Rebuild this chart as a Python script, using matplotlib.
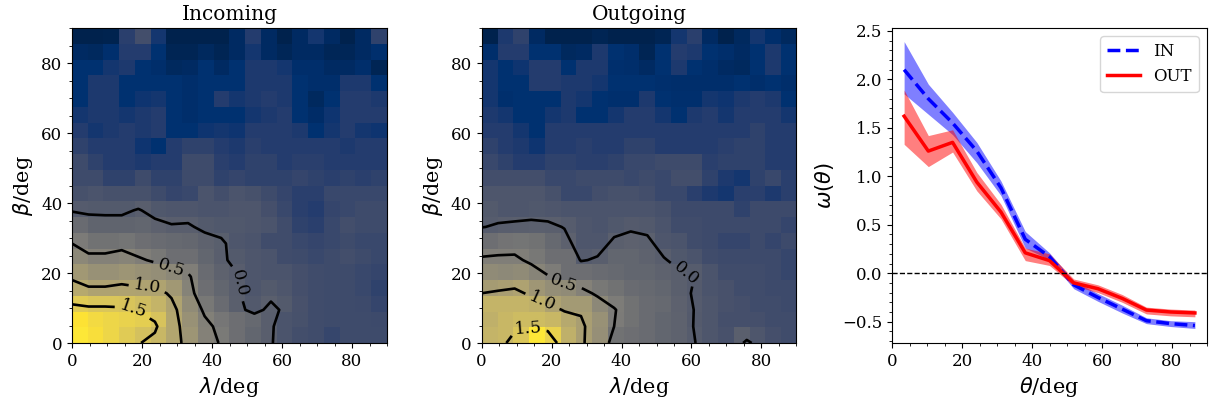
import numpy as np
import matplotlib
matplotlib.use("Agg")
import matplotlib.pyplot as plt
from matplotlib.ticker import AutoMinorLocator, MultipleLocator

plt.rcParams['font.family'] = ['DejaVu Serif']
plt.rcParams['mathtext.fontset'] = 'dejavusans'

# ---------------- data ----------------
# heatmap rows: index 0 = bottom (beta 0..4.5), 19 = top; columns lambda 0..90
incoming = [
    [2.0, 1.9, 1.8, 1.65, 1.52, 1.4, 1.15, 0.9, 0.6, 0.48, 0.3, 0.15, 0.02, -0.15, -0.25, -0.28, -0.38, -0.3, -0.3, -0.3],
    [1.95, 1.85, 1.8, 1.75, 1.7, 1.56, 1.15, 0.85, 0.58, 0.42, 0.3, 0.2, 0.03, -0.15, -0.2, -0.28, -0.3, -0.3, -0.3, -0.32],
    [1.65, 1.6, 1.6, 1.57, 1.48, 1.35, 1.12, 0.75, 0.45, 0.25, 0.05, -0.06, 0.05, -0.05, -0.18, -0.28, -0.3, -0.3, -0.32, -0.4],
    [1.2, 1.1, 1.1, 1.12, 1.1, 1.12, 0.95, 0.62, 0.3, 0.15, 0.02, -0.1, -0.05, -0.12, -0.22, -0.28, -0.3, -0.3, -0.35, -0.45],
    [0.95, 0.85, 0.85, 0.9, 0.85, 0.8, 0.7, 0.55, 0.25, 0.1, 0.01, -0.12, -0.15, -0.15, -0.22, -0.28, -0.3, -0.3, -0.35, -0.4],
    [0.7, 0.6, 0.6, 0.65, 0.55, 0.45, 0.3, 0.3, 0.15, 0.03, -0.05, -0.12, -0.15, -0.28, -0.3, -0.35, -0.3, -0.25, -0.3, -0.35],
    [0.5, 0.35, 0.35, 0.4, 0.3, 0.25, 0.2, 0.18, 0.1, 0.04, -0.1, -0.15, -0.28, -0.28, -0.35, -0.4, -0.35, -0.3, -0.35, -0.35],
    [0.25, 0.12, 0.12, 0.12, 0.15, 0.08, 0.02, 0.03, -0.05, -0.08, -0.08, -0.12, -0.15, -0.28, -0.45, -0.5, -0.35, -0.25, -0.3, -0.3],
    [-0.02, -0.04, -0.05, -0.05, 0.02, -0.08, -0.1, -0.1, -0.15, -0.15, -0.1, -0.12, -0.22, -0.35, -0.5, -0.55, -0.4, -0.35, -0.3, -0.3],
    [-0.2, -0.15, -0.2, -0.2, -0.2, -0.3, -0.4, -0.35, -0.15, -0.25, -0.15, -0.2, -0.3, -0.4, -0.5, -0.5, -0.35, -0.35, -0.35, -0.35],
    [-0.3, -0.3, -0.45, -0.45, -0.3, -0.45, -0.45, -0.3, -0.3, -0.45, -0.4, -0.45, -0.45, -0.45, -0.4, -0.45, -0.5, -0.45, -0.5, -0.45],
    [-0.3, -0.45, -0.55, -0.55, -0.6, -0.55, -0.55, -0.3, -0.3, -0.5, -0.55, -0.45, -0.45, -0.55, -0.5, -0.5, -0.55, -0.55, -0.55, -0.55],
    [-0.45, -0.55, -0.55, -0.55, -0.68, -0.72, -0.55, -0.45, -0.45, -0.55, -0.6, -0.5, -0.55, -0.55, -0.55, -0.55, -0.55, -0.6, -0.55, -0.55],
    [-0.55, -0.65, -0.6, -0.55, -0.6, -0.55, -0.72, -0.72, -0.68, -0.65, -0.68, -0.55, -0.55, -0.55, -0.6, -0.72, -0.65, -0.55, -0.65, -0.68],
    [-0.65, -0.6, -0.6, -0.65, -0.6, -0.55, -0.72, -0.8, -0.72, -0.72, -0.72, -0.65, -0.6, -0.55, -0.72, -0.82, -0.68, -0.55, -0.55, -0.55],
    [-0.72, -0.6, -0.6, -0.72, -0.68, -0.65, -0.72, -0.8, -0.72, -0.55, -0.65, -0.6, -0.55, -0.6, -0.72, -0.88, -0.72, -0.55, -0.55, -0.6],
    [-0.72, -0.6, -0.6, -0.72, -0.72, -0.72, -0.72, -0.8, -0.72, -0.72, -0.72, -0.6, -0.6, -0.6, -0.72, -0.8, -0.8, -0.6, -0.6, -0.72],
    [-0.72, -0.72, -0.65, -0.6, -0.72, -0.8, -0.88, -0.85, -0.72, -0.85, -0.72, -0.6, -0.6, -0.65, -0.8, -0.8, -0.85, -0.85, -0.8, -0.95],
    [-0.85, -0.88, -0.78, -0.55, -0.55, -0.72, -0.95, -0.95, -0.88, -0.95, -0.85, -0.65, -0.85, -0.92, -0.85, -0.85, -0.92, -0.92, -0.85, -0.78],
    [-1.0, -1.0, -0.98, -0.5, -0.25, -0.65, -1.0, -1.0, -1.0, -1.0, -0.85, -0.55, -0.85, -1.0, -0.85, -0.65, -0.85, -1.0, -0.85, -0.45],
]

outgoing = [
    [1.35, 1.4, 1.6, 2.0, 1.75, 1.3, 1.05, 0.82, 0.35, 0.3, 0.25, 0.15, 0.1, -0.01, -0.12, -0.18, 0.05, -0.12, -0.22, -0.28],
    [1.3, 1.4, 1.45, 1.45, 1.4, 1.2, 1.05, 0.85, 0.5, 0.35, 0.25, 0.15, 0.1, -0.03, -0.12, -0.22, -0.22, -0.22, -0.28, -0.28],
    [1.35, 1.35, 1.35, 1.3, 1.1, 0.98, 0.97, 0.7, 0.52, 0.35, 0.25, 0.2, 0.08, -0.02, -0.12, -0.18, -0.22, -0.28, -0.28, -0.32],
    [1.0, 1.05, 1.1, 0.93, 0.8, 0.75, 0.6, 0.45, 0.35, 0.25, 0.2, 0.15, 0.05, -0.03, -0.15, -0.18, -0.28, -0.28, -0.32, -0.32],
    [0.75, 0.72, 0.75, 0.65, 0.52, 0.3, 0.3, 0.25, 0.2, 0.15, 0.15, 0.1, 0.05, -0.01, -0.15, -0.28, -0.28, -0.28, -0.32, -0.38],
    [0.55, 0.55, 0.55, 0.45, 0.3, 0.3, -0.02, 0.03, 0.15, 0.15, 0.1, 0.02, -0.08, -0.15, -0.28, -0.32, -0.32, -0.32, -0.32, -0.38],
    [0.3, 0.38, 0.4, 0.35, 0.2, 0.08, -0.1, -0.1, 0.05, 0.08, 0.06, -0.1, -0.15, -0.28, -0.32, -0.4, -0.4, -0.32, -0.4, -0.32],
    [-0.01, 0.03, 0.05, 0.06, 0.05, -0.01, -0.12, -0.15, -0.08, -0.03, -0.06, -0.15, -0.28, -0.28, -0.32, -0.32, -0.32, -0.32, -0.32, -0.4],
    [-0.05, -0.1, -0.1, -0.08, -0.1, -0.15, -0.15, -0.15, -0.15, -0.15, -0.15, -0.2, -0.32, -0.32, -0.32, -0.32, -0.45, -0.32, -0.32, -0.32],
    [-0.1, -0.1, -0.1, -0.1, -0.2, -0.35, -0.35, -0.25, -0.2, -0.2, -0.25, -0.35, -0.35, -0.5, -0.6, -0.65, -0.5, -0.5, -0.6, -0.5],
    [-0.25, -0.25, -0.25, -0.25, -0.35, -0.35, -0.3, -0.3, -0.3, -0.35, -0.3, -0.35, -0.25, -0.25, -0.45, -0.6, -0.65, -0.45, -0.35, -0.5],
    [-0.35, -0.45, -0.55, -0.55, -0.45, -0.45, -0.5, -0.5, -0.45, -0.35, -0.35, -0.3, -0.3, -0.3, -0.5, -0.45, -0.45, -0.45, -0.55, -0.55],
    [-0.45, -0.55, -0.6, -0.68, -0.55, -0.55, -0.5, -0.55, -0.55, -0.45, -0.45, -0.55, -0.55, -0.55, -0.55, -0.5, -0.45, -0.45, -0.55, -0.55],
    [-0.55, -0.55, -0.65, -0.72, -0.55, -0.55, -0.55, -0.55, -0.55, -0.55, -0.55, -0.55, -0.55, -0.55, -0.55, -0.55, -0.55, -0.45, -0.55, -0.55],
    [-0.6, -0.65, -0.72, -0.72, -0.65, -0.6, -0.72, -0.72, -0.65, -0.55, -0.55, -0.65, -0.72, -0.6, -0.55, -0.65, -0.55, -0.55, -0.55, -0.65],
    [-0.65, -0.78, -0.72, -0.72, -0.72, -0.6, -0.65, -0.72, -0.78, -0.78, -0.6, -0.72, -0.78, -0.78, -0.65, -0.68, -0.6, -0.55, -0.6, -0.72],
    [-0.65, -0.72, -0.72, -0.55, -0.55, -0.6, -0.6, -0.65, -0.72, -0.72, -0.72, -0.78, -0.8, -0.8, -0.8, -0.8, -0.72, -0.8, -0.72, -0.8],
    [-0.65, -0.72, -0.68, -0.55, -0.55, -0.72, -0.6, -0.6, -0.78, -0.8, -0.85, -0.72, -0.6, -0.72, -0.8, -0.85, -0.88, -0.72, -0.6, -0.72],
    [-0.8, -0.55, -0.55, -0.72, -0.72, -0.88, -0.85, -0.6, -0.72, -0.8, -0.95, -0.72, -0.55, -0.6, -0.72, -0.8, -0.85, -0.72, -0.6, -0.72],
    [-1.0, -0.6, -0.45, -0.85, -1.0, -1.0, -1.0, -0.95, -1.0, -1.0, -1.0, -0.95, -0.65, -0.5, -0.85, -1.0, -0.88, -0.65, -0.8, -0.88],
]

contour_levels = [0.0, 0.5, 1.0, 1.5]

theta = [3.46, 10.38, 17.31, 24.23, 31.15, 38.08, 45.0, 51.92, 58.85, 65.77, 72.69, 79.62, 86.54]
omega_in = [2.10, 1.80, 1.55, 1.26, 0.88, 0.35, 0.17, -0.12, -0.25, -0.37, -0.49, -0.52, -0.54]
omega_in_lo = [1.85, 1.64, 1.43, 1.14, 0.80, 0.26, 0.14, -0.16, -0.29, -0.41, -0.52, -0.55, -0.57]
omega_in_hi = [2.39, 1.95, 1.66, 1.35, 0.95, 0.43, 0.21, -0.08, -0.21, -0.33, -0.46, -0.49, -0.50]
omega_out = [1.62, 1.26, 1.35, 0.94, 0.63, 0.21, 0.13, -0.10, -0.16, -0.26, -0.38, -0.40, -0.41]
omega_out_lo = [1.33, 1.10, 1.25, 0.85, 0.56, 0.13, 0.08, -0.13, -0.20, -0.30, -0.42, -0.44, -0.45]
omega_out_hi = [1.89, 1.42, 1.48, 1.04, 0.71, 0.26, 0.20, -0.06, -0.12, -0.22, -0.35, -0.37, -0.38]

# contour label anchor points (lambda, beta)
label_pos_in = [(46, 17), (28, 20.5), (21.5, 15.5), (17.5, 9.5)]
label_pos_out = [(59, 21), (24, 18), (17, 11), (13, 5.5)]

# ---------------- figure ----------------
W, H = 1209, 407
fig = plt.figure(figsize=(W / 100, H / 100), dpi=100)


def pos(left, top, right, bottom):
    return [left / W, 1 - bottom / H, (right - left) / W, (bottom - top) / H]


ax1 = fig.add_axes(pos(72, 28, 387, 343))
ax2 = fig.add_axes(pos(481, 28, 797, 343))
ax3 = fig.add_axes(pos(892, 28, 1207, 343))

for ax, Z, title, lpos in [(ax1, incoming, "Incoming", label_pos_in),
                           (ax2, outgoing, "Outgoing", label_pos_out)]:
    Z = np.array(Z)
    ax.imshow(Z, origin='lower', extent=[0, 90, 0, 90], cmap='cividis',
              vmin=-1.0, vmax=2.0, aspect='equal')
    cs = ax.contour(Z, levels=contour_levels, colors='k', linewidths=1.9,
                    extent=[0, 90, 0, 90])
    ax.clabel(cs, inline=True, fmt='%1.1f', fontsize=12.5, manual=lpos)
    ax.set_xlim(0, 90)
    ax.set_ylim(0, 90)
    ax.set_xticks([0, 20, 40, 60, 80])
    ax.set_yticks([0, 20, 40, 60, 80])
    ax.xaxis.set_minor_locator(AutoMinorLocator(4))
    ax.yaxis.set_minor_locator(AutoMinorLocator(4))
    ax.set_title(title, fontsize=14.5)
    ax.set_xlabel(r'$\lambda$/deg', fontsize=15)
    ax.set_ylabel(r'$\beta$/deg', fontsize=15)
    ax.tick_params(labelsize=12)

ax3.fill_between(theta, omega_in_lo, omega_in_hi, color='blue', alpha=0.5, linewidth=0)
ax3.fill_between(theta, omega_out_lo, omega_out_hi, color='red', alpha=0.5, linewidth=0)
ax3.plot(theta, omega_in, color='blue', linestyle='--', linewidth=2.5, label='IN')
ax3.plot(theta, omega_out, color='red', linestyle='-', linewidth=2.5, label='OUT')
ax3.axhline(0.0, color='black', linestyle='--', linewidth=1.0)
ax3.set_xlim(0, 90)
ax3.set_ylim(-0.72, 2.53)
ax3.set_xticks([0, 20, 40, 60, 80])
ax3.yaxis.set_major_locator(MultipleLocator(0.5))
ax3.xaxis.set_minor_locator(AutoMinorLocator(4))
ax3.yaxis.set_minor_locator(AutoMinorLocator(5))
ax3.set_xlabel(r'$\theta$/deg', fontsize=15)
ax3.set_ylabel(r'$\omega(\theta)$', fontsize=15)
ax3.tick_params(labelsize=12)
ax3.legend(loc='upper right', fontsize=12)

fig.savefig('out.png', dpi=100)
